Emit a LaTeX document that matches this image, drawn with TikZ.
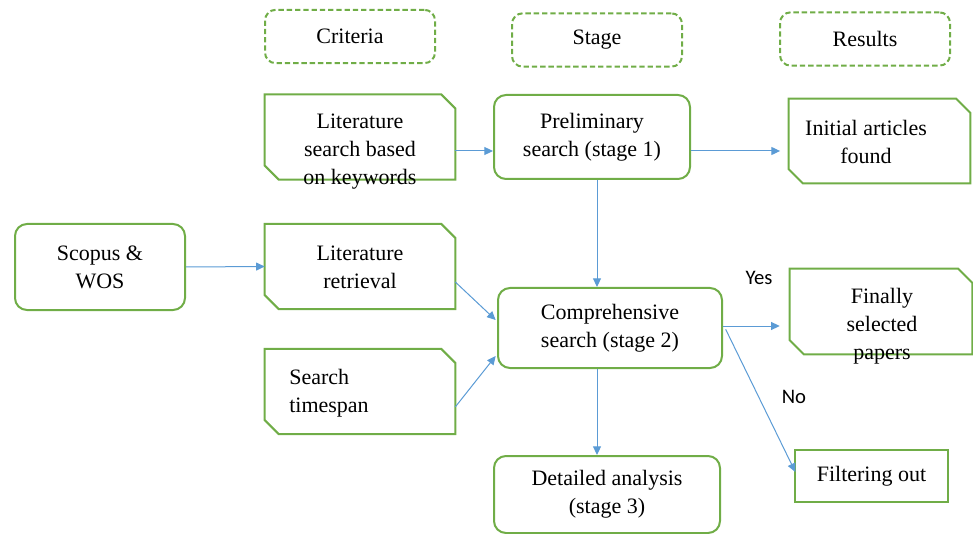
\documentclass[tikz,border=0pt]{standalone}
\usepackage{fontspec}
\setmainfont{Liberation Serif}
\newfontfamily\yesfont{Carlito}
\usetikzlibrary{arrows.meta}
\definecolor{grn}{HTML}{70AD47}
\definecolor{blu}{HTML}{5B9BD5}
\tikzset{
  txt/.style={font=\fontsize{16.5}{21}\selectfont, align=center, inner sep=0pt},
  hdr/.style={draw=grn, line width=1.5pt, dash pattern=on 4pt off 2.2pt, rounded corners=8pt, minimum width=127.5pt, minimum height=40pt, txt},
  rnd/.style={draw=grn, line width=1.5pt, rounded corners=9pt, txt},
  chf/.style={inner sep=0pt, minimum width=142.5pt, minimum height=63.5pt},
  chfline/.style={draw=grn, line width=1.5pt, line join=miter},
  sq/.style={draw=grn, line width=1.5pt, txt},
  arr/.style={draw=blu, line width=0.75pt, -{Triangle[length=6.5pt,width=6pt]}},
  yn/.style={font=\yesfont\fontsize{15.5}{18}\selectfont, inner sep=0pt},
}
\newcommand\chfdraw[1]{\draw[chfline] (#1.north west) -- ([xshift=-10.5pt]#1.north east) -- ([yshift=-10.5pt]#1.north east)
      -- (#1.south east) -- ([xshift=10.5pt]#1.south west) -- ([yshift=10.5pt]#1.south west) -- cycle;}
\begin{document}
\begin{tikzpicture}[x=0.75pt,y=-0.75pt]
\useasboundingbox (0,0) rectangle (973,534);
% headers
\node[hdr] (crit) at (350,36.5) {Criteria};
\node[hdr] (stage) at (597,40) {Stage};
\node[hdr] (res) at (865,39) {Results};
% criteria column
\node[chf] (litkey) at (360,137) {};
\chfdraw{litkey}
\node[txt] (litkeyt) at (360,152) {Literature\\search based\\on keywords};
\node[chf] (litret) at (360,266.5) {};
\chfdraw{litret}
\node[txt] (litrett) at (360,267.5) {Literature\\retrieval};
\node[chf] (span) at (360,391.5) {};
\chfdraw{span}
\node[txt, align=left, anchor=west] (spant) at (289,393) {Search\\timespan};
\node[rnd, minimum width=127.5pt, minimum height=64.5pt] (scopus) at (100,267) {Scopus \&\\WOS};
% stage column
\node[rnd, minimum width=147pt, minimum height=63pt] (prelim) at (592,137) {Preliminary\\search (stage 1)};
\node[rnd, minimum width=168pt, minimum height=60pt] (comp) at (610,328) {Comprehensive\\search (stage 2)};
\node[rnd, minimum width=169.5pt, minimum height=57.75pt] (det) at (607,494.5) {Detailed analysis\\(stage 3)};
% results column
\node[chf, minimum width=135.75pt, minimum height=63pt] (init) at (879.5,141) {};
\chfdraw{init}
\node[txt] (initt) at (866,142) {Initial articles\\found};
\node[chf, minimum width=136.5pt, minimum height=63.75pt] (fin) at (881,311.5) {};
\chfdraw{fin}
\node[txt] (fint) at (882,326) {Finally\\selected\\papers};
\node[sq, minimum width=114.75pt, minimum height=39pt] (filt) at (871.5,476) {Filtering out};
% labels
\node[yn] (yes) at (759,278) {Yes};
\node[yn] (no) at (794,397) {No};
% connectors
\draw[arr] ([yshift=-10.5pt]litkey.east) -- ([yshift=-10.5pt]litkey.east -| prelim.west);
\draw[arr] ([yshift=-10.5pt]prelim.east) -- ([yshift=-10.5pt,xshift=-6.5pt]prelim.east -| init.west);
\draw[arr] ([xshift=3.75pt]prelim.south) -- ([xshift=3.75pt]prelim.south |- comp.north);
\draw[arr] (scopus.east) -- (litret.west);
\draw[arr] ([yshift=-11.6pt]litret.east) -- ([yshift=6pt,xshift=-1pt]comp.west);
\draw[arr] ([yshift=-11.6pt]span.east) -- ([yshift=-21pt,xshift=-1pt]comp.west);
\draw[arr] ([yshift=1.5pt]comp.east) -- ([yshift=1.5pt,xshift=-7.5pt]comp.east -| fin.west);
\draw[arr] ([yshift=-1pt,xshift=2pt]comp.east) -- ([yshift=3pt,xshift=1pt]filt.west);
\draw[arr] ([xshift=-9.75pt]comp.south) -- ([xshift=-9.75pt]comp.south |- det.north);
\end{tikzpicture}
\end{document}
